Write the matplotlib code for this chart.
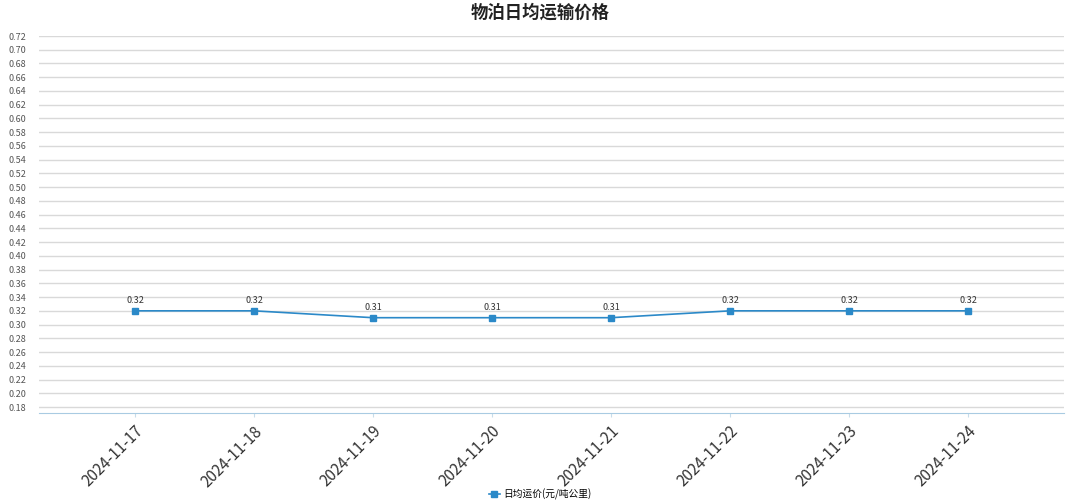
import matplotlib.pyplot as plt
import numpy as np

plt.rcParams['font.family'] = ['Noto Sans CJK SC', 'DejaVu Sans']

# 数据
dates = ['2024-11-17', '2024-11-18', '2024-11-19', '2024-11-20',
         '2024-11-21', '2024-11-22', '2024-11-23', '2024-11-24']
prices = [0.32, 0.32, 0.31, 0.31, 0.31, 0.32, 0.32, 0.32]
yticks = np.round(np.arange(0.18, 0.7201, 0.02), 2)

line_color = '#2b89c8'

fig = plt.figure(figsize=(10.8, 5.04), dpi=100)
ax = fig.add_axes([39 / 1080, 1 - 413 / 504, (1064 - 39) / 1080, (413 - 36) / 504])

x = np.arange(len(dates))
ax.plot(x, prices, color=line_color, lw=1.2, marker='s', markersize=4.5,
        label='日均运价(元/吨公里)', zorder=3)

for xi, v in zip(x, prices):
    ax.annotate(f'{v:.2f}', (xi, v), xytext=(0, 4), textcoords='offset points',
                ha='center', va='bottom', fontsize=6.5, color='#333333')

ax.set_xlim(-0.807, 7.807)
ax.set_ylim(0.1713, 0.72)
ax.set_yticks(yticks)
ax.set_yticklabels([f'{t:.2f}' for t in yticks], fontsize=6.5, color='#555555', ha='left')
ax.tick_params(axis='y', length=0, pad=22)
ax.yaxis.grid(True, color='#d9d9d9', lw=1)
ax.set_axisbelow(True)

ax.set_xticks(x)
ax.set_xticklabels(dates, rotation=45, ha='right', va='top', rotation_mode='anchor',
                   fontsize=11, color='#333333')
ax.tick_params(axis='x', length=3, color='#c8dcea', pad=4)

for s in ['top', 'right', 'left']:
    ax.spines[s].set_visible(False)
ax.spines['bottom'].set_color('#a9cbe2')

fig.text(0.5, 0.975, '物泊日均运输价格', ha='center', va='center',
         fontsize=12.5, fontweight='bold', color='#222222')

fig.legend(loc='center', bbox_to_anchor=(0.5, 1 - 494 / 504), frameon=False,
           fontsize=7, handlelength=1.2, handletextpad=0.3)

fig.savefig('out.png', dpi=100)
